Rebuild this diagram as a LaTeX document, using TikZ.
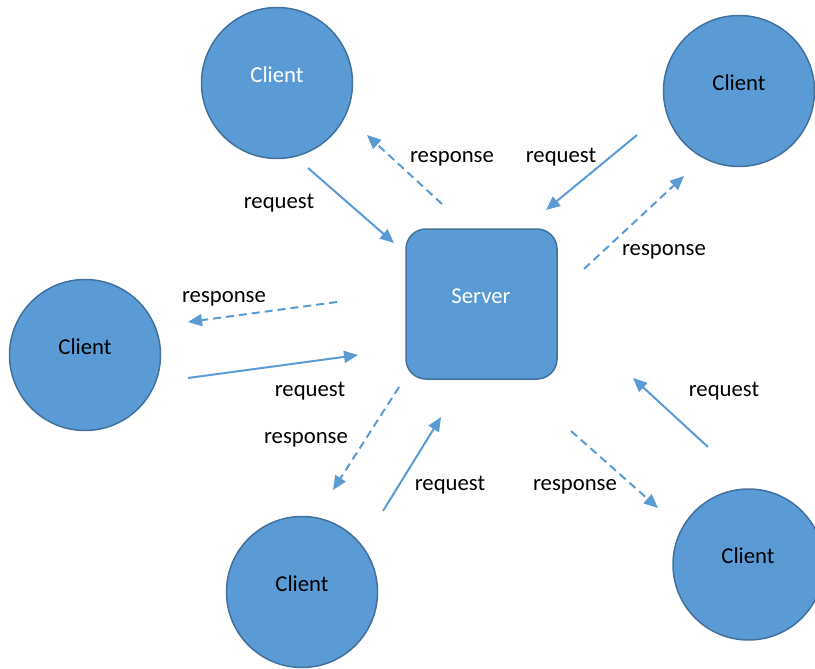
\documentclass[tikz,border=0pt]{standalone}
\usepackage{fontspec}
\setmainfont{Carlito}
\usetikzlibrary{arrows.meta}
\definecolor{nodefill}{HTML}{5B9BD5}
\definecolor{nodeline}{HTML}{41719C}
\begin{document}
\begin{tikzpicture}[x=1pt,y=-1pt,
  every node/.append style={font=\fontsize{22.7}{27}\selectfont},
  client/.style={circle,draw=nodeline,fill=nodefill,line width=1.5pt,minimum size=151pt,inner sep=0pt},
  server/.style={rectangle,rounded corners=20pt,draw=nodeline,fill=nodefill,line width=1.5pt,minimum width=151pt,minimum height=150pt},
  lbl/.style={inner sep=0pt,text=black},
  elbl/.style={inner sep=0pt,text=black,anchor=base},
  req/.style={draw=nodefill,line width=2pt,-{Triangle[length=14pt,width=12pt]}},
  resp/.style={req,dash pattern=on 8pt off 5pt}]
\useasboundingbox (0,0) rectangle (815,669);
% nodes
\node[client] (c1) at (277,83) {};
\node[client] (c2) at (739,91) {};
\node[client] (c3) at (85,355) {};
\node[client] (c4) at (302,592) {};
\node[client] (c5) at (748.5,564.5) {};
\node[server] (s) at (481.5,304) {};
\node[lbl,text=white] (t1) at (277,75) {Client};
\node[lbl] (t2) at (739,83) {Client};
\node[lbl] (t3) at (85,347) {Client};
\node[lbl] (t4) at (302,584) {Client};
\node[lbl] (t5) at (748,556) {Client};
\node[lbl,text=white] (ts) at (481,296) {Server};
% endpoints
\coordinate (a1s) at (308,168); \coordinate (a1e) at (394,243);
\coordinate (b1s) at (442,204); \coordinate (b1e) at (367,135);
\coordinate (a2s) at (637,135); \coordinate (a2e) at (546,210);
\coordinate (b2s) at (584,269); \coordinate (b2e) at (684,176);
\coordinate (b3s) at (337,302); \coordinate (b3e) at (188,322);
\coordinate (a3s) at (188,378); \coordinate (a3e) at (358,355);
\coordinate (b4s) at (399,387); \coordinate (b4e) at (333,490);
\coordinate (a4s) at (383,511); \coordinate (a4e) at (441,417);
\coordinate (b5s) at (571,431); \coordinate (b5e) at (658,508);
\coordinate (a5s) at (708,447); \coordinate (a5e) at (633,378);
% arrows
\draw[req] (a1s) -- (a1e);
\draw[resp] (b1s) -- (b1e);
\draw[req] (a2s) -- (a2e);
\draw[resp] (b2s) -- (b2e);
\draw[resp] (b3s) -- (b3e);
\draw[req] (a3s) -- (a3e);
\draw[resp] (b4s) -- (b4e);
\draw[req] (a4s) -- (a4e);
\draw[resp] (b5s) -- (b5e);
\draw[req] (a5s) -- (a5e);
% labels
\node[elbl] (l1) at (279,208.5) {request};
\node[elbl] (l2) at (452,162.5) {response};
\node[elbl] (l3) at (561,162.5) {request};
\node[elbl] (l4) at (664,255.5) {response};
\node[elbl] (l5) at (224,302.5) {response};
\node[elbl] (l6) at (310,396.5) {request};
\node[elbl] (l7) at (306,443.5) {response};
\node[elbl] (l8) at (450,490.5) {request};
\node[elbl] (l9) at (575,490.5) {response};
\node[elbl] (l10) at (724,396.5) {request};
\end{tikzpicture}
\end{document}
